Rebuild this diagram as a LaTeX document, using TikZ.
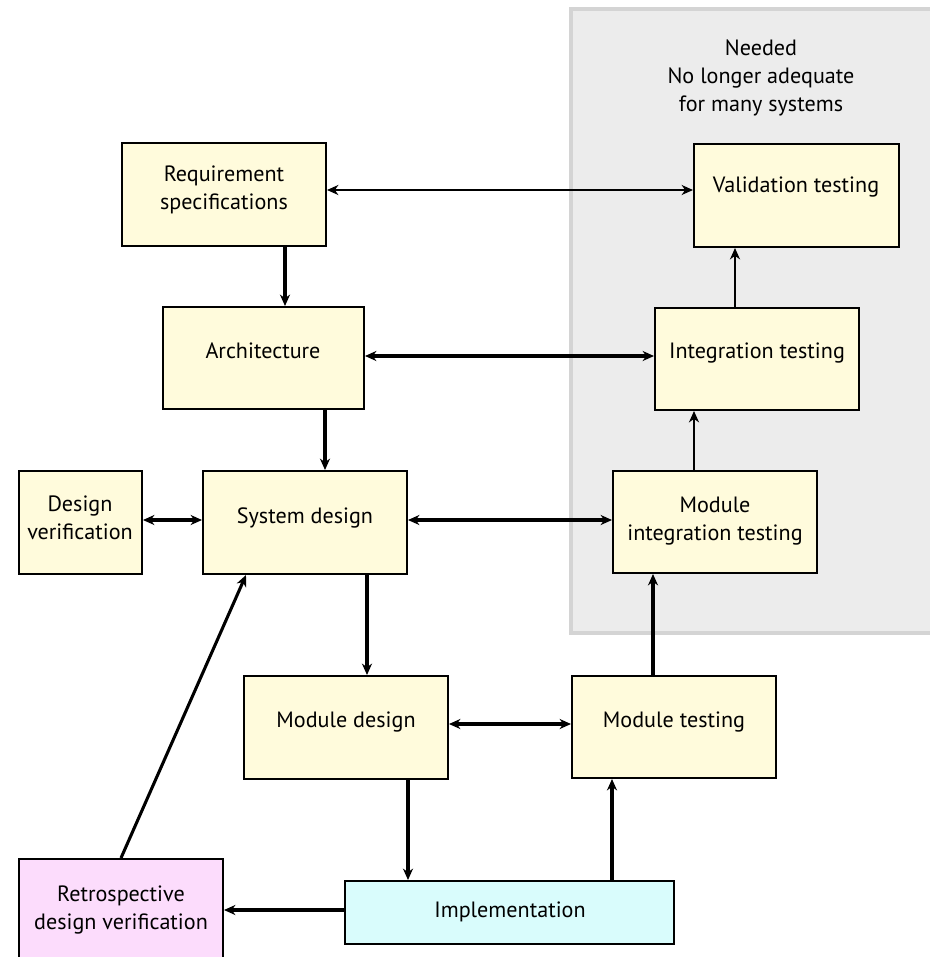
\documentclass[tikz,border=0pt]{standalone}
\usepackage{fontspec}
\setmainfont{PT Sans}
\usetikzlibrary{arrows.meta,fit,calc}
\definecolor{boxfill}{HTML}{FFFBDC}
\definecolor{implfill}{HTML}{D9FCFC}
\definecolor{retrofill}{HTML}{FCDCFC}
\definecolor{panelfill}{HTML}{ECECEC}
\definecolor{panelline}{HTML}{D4D4D4}
\tikzset{
  box/.style={draw=black, line width=1.5pt, fill=boxfill, inner sep=0pt, rectangle},
  txt/.style={align=center, font=\fontsize{16.6}{20.8}\selectfont, inner sep=0pt},
  tip/.tip={Stealth[length=8.5pt,width=7.5pt,inset=2.6pt]},
  conn/.style={line width=2.3pt, -tip},
  dconn/.style={line width=2.3pt, tip-tip},
  thin/.style={line width=1.7pt},
}
\begin{document}
\begin{tikzpicture}[x=0.75pt,y=-0.75pt]
\useasboundingbox (0,0) rectangle (930,957);
% panel
\draw[panelline, fill=panelfill, line width=3.5pt] (571,9) rectangle (934,633);
\node[txt] (needed) at (761,78) {Needed\\No longer adequate\\for many systems};
% boxes
\node[box, fit={(122,143) (326,246)}] (req) {};
\node[box, fit={(694,144) (899,247)}] (val) {};
\node[box, fit={(163,307) (364,409)}] (arch) {};
\node[box, fit={(655,308) (859,410)}] (integ) {};
\node[box, fit={(19,471) (142,574)}] (dv) {};
\node[box, fit={(203,471) (407,574)}] (sys) {};
\node[box, fit={(613,471) (817,573)}] (mit) {};
\node[box, fit={(244,676) (448,779)}] (md) {};
\node[box, fit={(572,676) (776,778)}] (mt) {};
\node[box, fill=implfill, fit={(345,881) (674,944)}] (impl) {};
\node[box, fill=retrofill, fit={(19,859) (223,968)}] (retro) {};
% texts
\node[txt] (reqt) at (224,190) {Requirement\\specifications};
\node[txt] (valt) at (796,187) {Validation testing};
\node[txt] (archt) at (263,351) {Architecture};
\node[txt] (integt) at (757,353) {Integration testing};
\node[txt] (dvt) at (80,518) {Design\\verification};
\node[txt] (syst) at (305,518) {System design};
\node[txt] (mitt) at (715,521) {Module\\integration testing};
\node[txt] (mdt) at (346,722) {Module design};
\node[txt] (mtt) at (674,722) {Module testing};
\node[txt] (implt) at (510,912) {Implementation};
\node[txt] (retrot) at (121,910) {Retrospective\\design verification};
% connectors
\draw[dconn, thin] (req.east |- 0,190) -- (val.west |- 0,190);
\draw[conn] (req.south -| 285,0) -- (arch.north -| 285,0);
\draw[dconn] (arch.east |- 0,356) -- (integ.west |- 0,356);
\draw[conn, thin] (integ.north -| 735,0) -- (val.south -| 735,0);
\draw[conn] (arch.south -| 325,0) -- (sys.north -| 325,0);
\draw[dconn] (dv.east |- 0,520) -- (sys.west |- 0,520);
\draw[dconn] (sys.east |- 0,520) -- (mit.west |- 0,520);
\draw[conn, thin] (mit.north -| 694,0) -- (integ.south -| 694,0);
\draw[conn] (sys.south -| 367,0) -- (md.north -| 367,0);
\draw[dconn] (md.east |- 0,724) -- (mt.west |- 0,724);
\draw[conn] (mt.north -| 653,0) -- (mit.south -| 653,0);
\draw[conn] (md.south -| 408,0) -- (impl.north -| 408,0);
\draw[conn] (impl.north -| 612,0) -- (mt.south -| 612,0);
\draw[conn] (impl.west |- 0,910) -- (retro.east |- 0,910);
\draw[conn] (retro.north) -- (sys.south -| 246,0);
\end{tikzpicture}
\end{document}
